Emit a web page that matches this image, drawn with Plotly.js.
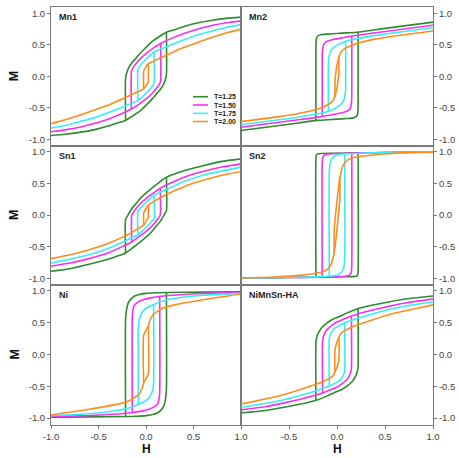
<!DOCTYPE html>
<html>
<head>
<meta charset="utf-8">
<script src="https://cdn.plot.ly/plotly-3.0.1.min.js"></script>
<style>html,body{margin:0;padding:0;background:#fff}#chart{width:459px;height:458px}</style>
</head>
<body>
<div id="chart"></div>
<script>
// ---------------- DATA ----------------
// Legend entries (temperatures), in drawing order
const TEMPS = ['T=1.25', 'T=1.50', 'T=1.75', 'T=2.00'];
const PANEL_NAMES = ['Mn1', 'Mn2', 'Sn1', 'Sn2', 'Ni', 'NiMnSn-HA'];
const TICK_VALS = [-1, -0.5, 0, 0.5, 1];
const TICK_TEXT = ['-1.0', '-0.5', '0.0', '0.5', '1.0'];

// Descending branch of each loop: H from +1 down to -Hc, last point = bottom of the jump.
// One list per temperature (T=1.25, 1.50, 1.75, 2.00). The ascending branch is the
// point-reflection (H,M) -> (-H,-M) of the descending one (loops are symmetric).
const MN1_H = [
  [1, 0.85, 0.7, 0.55, 0.4, 0.3, 0.215, 0.15, 0.08, 0.04, -0.02, -0.07, -0.11, -0.15, -0.18, -0.2, -0.215, -0.215],
  [1, 0.85, 0.7, 0.55, 0.4, 0.25, 0.155, 0.08, 0.0, -0.06, -0.1, -0.13, -0.15, -0.155, -0.155],
  [1, 0.85, 0.7, 0.55, 0.4, 0.25, 0.15, 0.088, 0.04, 0.0, -0.04, -0.07, -0.085, -0.085],
  [1, 0.85, 0.7, 0.55, 0.4, 0.25, 0.15, 0.08, 0.025, 0.0, -0.02, -0.025, -0.025]
];
const MN1_M = [
  [0.94, 0.92, 0.89, 0.85, 0.79, 0.74, 0.70, 0.64, 0.57, 0.52, 0.43, 0.35, 0.28, 0.21, 0.14, 0.07, -0.03, -0.70],
  [0.88, 0.85, 0.81, 0.75, 0.68, 0.59, 0.52, 0.45, 0.36, 0.28, 0.21, 0.15, 0.10, 0.06, -0.52],
  [0.82, 0.78, 0.72, 0.66, 0.58, 0.49, 0.43, 0.39, 0.33, 0.27, 0.21, 0.15, 0.11, -0.39],
  [0.75, 0.69, 0.62, 0.54, 0.46, 0.36, 0.29, 0.24, 0.20, 0.15, 0.10, 0.07, -0.20]
];

const MN2_H = [
  [1, 0.8, 0.6, 0.4, 0.213, 0.1, 0.0, -0.1, -0.17, -0.2, -0.215, -0.22, -0.22],
  [1, 0.8, 0.6, 0.4, 0.25, 0.143, 0.05, -0.05, -0.11, -0.14, -0.15, -0.154, -0.154],
  [1, 0.8, 0.6, 0.4, 0.25, 0.15, 0.08, 0.02, -0.03, -0.065, -0.082, -0.09, -0.09],
  [1, 0.8, 0.6, 0.4, 0.25, 0.15, 0.08, 0.04, 0.015, 0.0, -0.01, -0.02, -0.02]
];
const MN2_M = [
  [0.86, 0.82, 0.78, 0.74, 0.70, 0.69, 0.68, 0.67, 0.66, 0.64, 0.60, 0.45, -0.70],
  [0.81, 0.77, 0.73, 0.69, 0.66, 0.635, 0.61, 0.58, 0.55, 0.50, 0.42, 0.30, -0.635],
  [0.77, 0.73, 0.69, 0.65, 0.61, 0.58, 0.55, 0.51, 0.46, 0.40, 0.32, 0.20, -0.55],
  [0.72, 0.68, 0.64, 0.59, 0.54, 0.49, 0.44, 0.38, 0.28, 0.18, 0.08, -0.05, -0.33]
];

const SN1_H = [
  [1, 0.8, 0.6, 0.4, 0.3, 0.215, 0.15, 0.04, -0.05, -0.1, -0.15, -0.19, -0.215, -0.215],
  [1, 0.8, 0.6, 0.4, 0.25, 0.155, 0.08, 0.0, -0.06, -0.1, -0.13, -0.15, -0.15],
  [1, 0.8, 0.6, 0.4, 0.25, 0.15, 0.088, 0.03, -0.02, -0.06, -0.085, -0.085],
  [1, 0.8, 0.6, 0.4, 0.22, 0.1, 0.025, 0.0, -0.02, -0.025, -0.025]
];
const SN1_M = [
  [0.89, 0.85, 0.78, 0.70, 0.65, 0.60, 0.53, 0.40, 0.28, 0.19, 0.10, 0.0, -0.07, -0.60],
  [0.81, 0.76, 0.69, 0.60, 0.50, 0.43, 0.35, 0.26, 0.18, 0.11, 0.05, 0.0, -0.43],
  [0.76, 0.70, 0.63, 0.53, 0.43, 0.36, 0.32, 0.24, 0.17, 0.10, 0.06, -0.32],
  [0.69, 0.63, 0.55, 0.45, 0.33, 0.23, 0.16, 0.10, 0.05, 0.02, -0.16]
];

const SN2_H = [
  [1, 0.5, 0.213, 0.0, -0.15, -0.2, -0.215, -0.22, -0.22],
  [1, 0.5, 0.25, 0.154, 0.0, -0.1, -0.13, -0.148, -0.154, -0.154],
  [1, 0.5, 0.25, 0.084, 0.03, -0.02, -0.05, -0.07, -0.08, -0.08],
  [1, 0.7, 0.42, 0.25, 0.15, 0.1, 0.065, 0.045, 0.025, 0.005, -0.012, -0.03, -0.03]
];
const SN2_M = [
  [1.0, 0.99, 0.985, 0.98, 0.975, 0.97, 0.95, 0.88, -0.98],
  [1.0, 0.99, 0.985, 0.98, 0.975, 0.965, 0.95, 0.91, 0.80, -0.98],
  [1.0, 0.99, 0.98, 0.97, 0.96, 0.94, 0.90, 0.83, 0.70, -0.97],
  [0.995, 0.985, 0.96, 0.93, 0.90, 0.86, 0.79, 0.70, 0.55, 0.30, 0.05, -0.25, -0.62]
];

const NI_H = [
  [1, 0.6, 0.22, 0.1, 0.0, -0.08, -0.12, -0.16, -0.19, -0.205, -0.215, -0.215],
  [1, 0.6, 0.35, 0.155, 0.05, -0.03, -0.09, -0.12, -0.135, -0.144, -0.144],
  [1, 0.6, 0.3, 0.15, 0.088, 0.03, -0.02, -0.05, -0.07, -0.08, -0.08],
  [1, 0.6, 0.3, 0.18, 0.077, 0.04, 0.025, 0.0, -0.025, -0.025]
];
const NI_M = [
  [0.985, 0.98, 0.975, 0.97, 0.96, 0.94, 0.92, 0.87, 0.80, 0.70, 0.55, -0.97],
  [0.975, 0.96, 0.94, 0.915, 0.89, 0.86, 0.82, 0.78, 0.72, 0.60, -0.915],
  [0.96, 0.93, 0.88, 0.83, 0.79, 0.75, 0.70, 0.64, 0.56, 0.45, -0.79],
  [0.95, 0.86, 0.78, 0.73, 0.63, 0.53, 0.45, 0.38, 0.30, -0.45]
];

const HA_H = [
  [1, 0.75, 0.55, 0.35, 0.217, 0.1, 0.03, -0.05, -0.11, -0.16, -0.2, -0.215, -0.22, -0.22],
  [1, 0.75, 0.55, 0.35, 0.2, 0.143, 0.06, 0.0, -0.06, -0.11, -0.14, -0.15, -0.15],
  [1, 0.75, 0.55, 0.35, 0.2, 0.084, 0.03, -0.02, -0.05, -0.07, -0.08, -0.08],
  [1, 0.75, 0.55, 0.28, 0.15, 0.084, 0.04, 0.02, 0.0, -0.015, -0.022, -0.022]
];
const HA_M = [
  [0.92, 0.88, 0.83, 0.77, 0.72, 0.65, 0.60, 0.55, 0.49, 0.42, 0.32, 0.24, 0.18, -0.72],
  [0.87, 0.82, 0.76, 0.69, 0.63, 0.60, 0.55, 0.51, 0.45, 0.38, 0.29, 0.22, -0.60],
  [0.83, 0.77, 0.71, 0.63, 0.56, 0.50, 0.46, 0.42, 0.37, 0.31, 0.26, -0.50],
  [0.78, 0.70, 0.63, 0.50, 0.43, 0.38, 0.33, 0.27, 0.20, 0.12, 0.05, -0.27]
];

// ---------------- STYLE ----------------
const COLORS = ['#2e8b2e', '#f52ff5', '#38ecfa', '#ff8c1a'];
const FONT = 'Liberation Sans, Arial, Helvetica, sans-serif';
const AXIS_COLOR = '#7a7a7a';
const TICK_FONT = {family: FONT, size: 9.5, color: '#444'};

const PANELS = [
  {H: MN1_H, M: MN1_M}, {H: MN2_H, M: MN2_M},
  {H: SN1_H, M: SN1_M}, {H: SN2_H, M: SN2_M},
  {H: NI_H, M: NI_M},   {H: HA_H, M: HA_M}
];

const W = 459, HT = 458;
const colDom = [[51 / W, 241 / W], [241 / W, 433 / W]];
const rowDom = [[1 - 145.6 / HT, 1 - 7 / HT], [1 - 284.5 / HT, 1 - 145.6 / HT], [1 - 424.5 / HT, 1 - 284.5 / HT]];

const traces = [];
const layout = {
  width: W, height: HT,
  margin: {l: 0, r: 0, t: 0, b: 0},
  paper_bgcolor: '#fff', plot_bgcolor: '#fff',
  showlegend: false,
  annotations: [], shapes: []
};

PANELS.forEach((p, k) => {
  const row = Math.floor(k / 2), col = k % 2;
  const xa = 'x' + (k + 1), ya = 'y' + (k + 1);
  p.H.forEach((hArr, j) => {
    const mArr = p.M[j];
    const x = hArr.concat([null], hArr.map(v => -v));
    const y = mArr.concat([null], mArr.map(v => -v));
    traces.push({
      type: 'scatter', mode: 'lines', name: TEMPS[j],
      x: x, y: y, xaxis: xa, yaxis: ya,
      line: {color: COLORS[j], width: 1.6, shape: 'spline', smoothing: 0.5},
      connectgaps: false, hoverinfo: 'skip'
    });
  });
  const bottom = row === 2;
  const xt = col === 1 ? TICK_VALS.slice(1) : TICK_VALS;
  const xtt = col === 1 ? TICK_TEXT.slice(1) : TICK_TEXT;
  layout['xaxis' + (k + 1)] = {
    domain: colDom[col], anchor: ya, range: [-1, 1],
    tickmode: 'array', tickvals: xt, ticktext: xtt,
    showticklabels: bottom, ticks: bottom ? 'outside' : '', ticklen: 3, tickcolor: AXIS_COLOR,
    tickfont: TICK_FONT,
    showline: true, mirror: true, linecolor: AXIS_COLOR, linewidth: 1,
    showgrid: false, zeroline: false, fixedrange: true
  };
  layout['yaxis' + (k + 1)] = {
    domain: rowDom[row], anchor: xa, range: [-1.1, 1.1], side: col === 0 ? 'left' : 'right',
    tickmode: 'array', tickvals: TICK_VALS, ticktext: TICK_TEXT,
    ticks: 'outside', ticklen: 3, tickcolor: AXIS_COLOR,
    tickfont: TICK_FONT,
    showline: true, mirror: true, linecolor: AXIS_COLOR, linewidth: 1,
    showgrid: false, zeroline: false, fixedrange: true
  };
  // panel name
  layout.annotations.push({
    text: '<b>' + PANEL_NAMES[k] + '</b>', xref: xa + ' domain', yref: ya + ' domain',
    x: 0.03, y: 0.975, xanchor: 'left', yanchor: 'top', showarrow: false,
    font: {family: FONT, size: 9, color: '#222'}
  });
  // axis titles
  if (col === 0) {
    layout.annotations.push({
      text: '<b>M</b>', xref: 'paper', yref: ya + ' domain', x: 14 / W, y: 0.5,
      xanchor: 'center', yanchor: 'middle', textangle: -90, showarrow: false,
      font: {family: FONT, size: 12.5, color: '#111'}
    });
  }
  if (bottom) {
    layout.annotations.push({
      text: '<b>H</b>', xref: xa + ' domain', yref: 'paper', x: 0.5, y: 0.5 / HT,
      xanchor: 'center', yanchor: 'bottom', showarrow: false,
      font: {family: FONT, size: 12, color: '#111'}
    });
  }
});

// manual compact legend inside the Mn1 panel
const legRows = [96.7, 105, 113.3, 121.5];
TEMPS.forEach((t, j) => {
  const yp = 1 - legRows[j] / HT;
  layout.shapes.push({
    type: 'line', xref: 'paper', yref: 'paper', x0: 193 / W, x1: 208 / W, y0: yp, y1: yp,
    line: {color: COLORS[j], width: 1.6}
  });
  layout.annotations.push({
    text: '<b>' + t + '</b>', xref: 'paper', yref: 'paper', x: 212 / W, y: yp,
    xanchor: 'left', yanchor: 'middle', showarrow: false,
    font: {family: FONT, size: 7, color: '#222'}
  });
});

Plotly.newPlot('chart', traces, layout, {displayModeBar: false, staticPlot: true});
</script>
</body>
</html>
